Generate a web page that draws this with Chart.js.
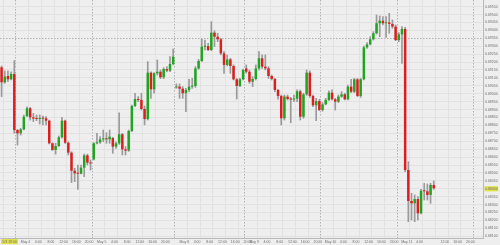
<!DOCTYPE html>
<html>
<head>
<meta charset="utf-8">
<script src="https://cdn.jsdelivr.net/npm/chart.js@4.4.1/dist/chart.umd.min.js"></script>
<style>
  html, body { margin: 0; padding: 0; background: #eeeeee; }
  #wrap { width: 500px; height: 245px; }
</style>
</head>
<body>
<div id="wrap"><canvas id="chart"></canvas></div>
<script>
// hourly sessions shown on the time axis
const dayNames = ['May 3', 'May 4', 'May 5', 'May 7', 'May 8', 'May 9', 'May 10', 'May 11', 'May 12'];
const dayFirstHour = [19, 0, 0, 22, 0, 0, 0, 0, 0];
const dayLastHour = [23, 23, 23, 23, 21, 23, 23, 23, 2];
const firstTickLabel = '5/3 19:00';
const hiddenTicks = ['May 3 20:00', 'May 11 8:00', 'May 12 0:00'];

// H1 candles
const opens = [
  0.69167,0.69072,0.69112,0.69091,0.69125,0.68771,0.68750,0.68775,0.68859,0.68908,
  0.68851,0.68845,0.68841,0.68845,0.68845,0.68830,0.68687,0.68645,0.68670,0.68725,
  0.68830,0.68691,0.68628,0.68514,0.68497,0.68495,0.68533,0.68611,0.68565,0.68586,
  0.68687,0.68693,0.68712,0.68716,0.68712,0.68720,0.68666,0.68687,0.68744,0.68649,
  0.68641,0.68765,0.68923,0.68967,0.68961,0.68904,0.68840,0.69133,0.69028,0.69129,
  0.69139,0.69104,0.69156,0.69146,0.69188,0.69040,0.69045,0.69032,0.69003,0.69024,
  0.69045,0.69049,0.69160,0.69207,0.69297,0.69301,0.69276,0.69386,0.69360,0.69344,
  0.69255,0.69182,0.69217,0.69175,0.69091,0.69049,0.69091,0.69160,0.69139,0.69076,
  0.69093,0.69160,0.69224,0.69171,0.69160,0.69112,0.69093,0.69024,0.68986,0.68845,
  0.68982,0.68967,0.68963,0.68969,0.69015,0.68855,0.68996,0.69133,0.68986,0.68927,
  0.68954,0.68897,0.68933,0.68961,0.69007,0.68965,0.68950,0.68982,0.68996,0.68965,
  0.69045,0.69013,0.69091,0.68986,0.69091,0.69293,0.69312,0.69344,0.69382,0.69445,
  0.69461,0.69445,0.69450,0.69441,0.69424,0.69339,0.69375,0.69409,0.68518,0.68323,
  0.68308,0.68335,0.68245,0.68388,0.68384,0.68361,0.68424
];
const highs = [
  0.69175,0.69144,0.69144,0.69139,0.69209,0.68775,0.68782,0.68866,0.68918,0.68914,
  0.68876,0.68866,0.68866,0.68859,0.68855,0.68834,0.68691,0.68687,0.68733,0.68851,
  0.68834,0.68697,0.68634,0.68529,0.68550,0.68550,0.68619,0.68619,0.68582,0.68691,
  0.68750,0.68729,0.68771,0.68754,0.68771,0.68725,0.68697,0.68880,0.68750,0.68666,
  0.68771,0.68929,0.69003,0.68982,0.69003,0.68923,0.69203,0.69139,0.69133,0.69213,
  0.69150,0.69165,0.69171,0.69234,0.69283,0.69062,0.69062,0.69045,0.69034,0.69091,
  0.69097,0.69171,0.69217,0.69344,0.69339,0.69318,0.69455,0.69398,0.69382,0.69350,
  0.69266,0.69245,0.69224,0.69182,0.69097,0.69097,0.69155,0.69182,0.69150,0.69108,
  0.69182,0.69266,0.69245,0.69245,0.69171,0.69118,0.69097,0.69028,0.68992,0.68992,
  0.68992,0.68977,0.68992,0.69024,0.69024,0.69003,0.69150,0.69144,0.68992,0.68971,
  0.68965,0.68944,0.68971,0.69019,0.69024,0.68971,0.68992,0.69013,0.69003,0.69055,
  0.69091,0.69097,0.69097,0.69097,0.69301,0.69323,0.69360,0.69392,0.69497,0.69491,
  0.69487,0.69487,0.69508,0.69466,0.69434,0.69386,0.69424,0.69419,0.68571,0.68371,
  0.68361,0.68350,0.68396,0.68434,0.68430,0.68434,0.68449
];
const lows = [
  0.68982,0.69066,0.69076,0.69087,0.68750,0.68676,0.68739,0.68771,0.68855,0.68834,
  0.68824,0.68830,0.68809,0.68803,0.68803,0.68683,0.68641,0.68619,0.68666,0.68720,
  0.68687,0.68613,0.68439,0.68445,0.68396,0.68493,0.68476,0.68550,0.68518,0.68582,
  0.68683,0.68687,0.68697,0.68687,0.68687,0.68624,0.68655,0.68680,0.68613,0.68613,
  0.68636,0.68760,0.68918,0.68950,0.68897,0.68803,0.68834,0.68971,0.69003,0.69118,
  0.69095,0.69095,0.69139,0.69139,0.69182,0.69034,0.68971,0.68971,0.68887,0.69013,
  0.69034,0.69040,0.69154,0.69203,0.69276,0.69272,0.69272,0.69297,0.69329,0.69245,
  0.69129,0.69175,0.69129,0.69087,0.68967,0.69045,0.69087,0.69129,0.69066,0.69045,
  0.69087,0.69150,0.69160,0.69150,0.69097,0.69087,0.69013,0.68965,0.68803,0.68834,
  0.68961,0.68817,0.68950,0.68950,0.68834,0.68845,0.68990,0.68977,0.68918,0.68830,
  0.68893,0.68890,0.68930,0.68956,0.68961,0.68897,0.68944,0.68977,0.68961,0.68961,
  0.69007,0.69007,0.68982,0.68977,0.69087,0.69287,0.69308,0.69339,0.69377,0.69360,
  0.69434,0.69356,0.69382,0.69413,0.69335,0.69329,0.69192,0.68508,0.68192,0.68203,
  0.68192,0.68203,0.68241,0.68329,0.68329,0.68308,0.68396
];
const closes = [
  0.69072,0.69108,0.69091,0.69125,0.68771,0.68750,0.68775,0.68855,0.68908,0.68851,
  0.68843,0.68841,0.68845,0.68843,0.68830,0.68687,0.68645,0.68670,0.68725,0.68830,
  0.68691,0.68628,0.68514,0.68497,0.68495,0.68533,0.68611,0.68565,0.68560,0.68687,
  0.68693,0.68712,0.68716,0.68712,0.68729,0.68666,0.68687,0.68744,0.68649,0.68641,
  0.68765,0.68923,0.68967,0.68961,0.68904,0.68840,0.69133,0.69028,0.69129,0.69139,
  0.69104,0.69156,0.69146,0.69188,0.69234,0.69045,0.69032,0.69003,0.69024,0.69045,
  0.69049,0.69160,0.69207,0.69297,0.69301,0.69276,0.69386,0.69360,0.69344,0.69255,
  0.69182,0.69217,0.69175,0.69091,0.69049,0.69091,0.69150,0.69139,0.69076,0.69093,
  0.69160,0.69224,0.69171,0.69160,0.69112,0.69093,0.69024,0.68986,0.68845,0.68982,
  0.68967,0.68963,0.68969,0.69015,0.68855,0.68996,0.69133,0.68986,0.68927,0.68954,
  0.68897,0.68933,0.68961,0.69007,0.68965,0.68950,0.68982,0.68996,0.68965,0.69045,
  0.69013,0.69091,0.68986,0.69091,0.69293,0.69312,0.69344,0.69382,0.69445,0.69461,
  0.69445,0.69450,0.69441,0.69424,0.69339,0.69375,0.69409,0.68518,0.68323,0.68308,
  0.68335,0.68245,0.68388,0.68384,0.68361,0.68424,0.68403
];

// price scale
const priceLabels = [
  '0.69550','0.69500','0.69450','0.69400','0.69350','0.69300','0.69250','0.69200','0.69150','0.69100',
  '0.69050','0.69000','0.68950','0.68900','0.68850','0.68800','0.68750','0.68700','0.68650','0.68600',
  '0.68550','0.68500','0.68450','0.68400','0.68350','0.68300','0.68250','0.68200','0.68150','0.68100'
];
const yMin = 0.68089;
const yMax = 0.69592;
const markedLevel = '0.69350';
const lastPriceLabel = '0.68400';

const upColor = '#1fa51f';
const downColor = '#de1e1e';
const wickColor = '#9a9a9a';
const gridColor = '#e2e2e2';
const sepColor = '#b2b2b2';
const axisColor = '#b8b8b8';
const textColor = '#6e6e6e';
const hiColor = '#e0e24a';
const tickFont = { family: 'Liberation Sans, Arial, sans-serif', size: 3.5 };

// build hourly categories
const categories = [];
const hourOf = [];
dayNames.forEach((d, k) => {
  for (let h = dayFirstHour[k]; h <= dayLastHour[k]; h++) {
    categories.push(d + ' ' + h + ':00');
    hourOf.push(h);
  }
});

function tickText(i) {
  if (i === 0) return firstTickLabel;
  if (hiddenTicks.includes(categories[i])) return '';
  const h = hourOf[i];
  if (h === 0) return categories[i].replace(' 0:00', '');
  if (h % 4 === 0) return h + ':00';
  return '';
}

new Chart(document.getElementById('chart'), {
  type: 'bar',
  data: {
    labels: categories,
    datasets: [
      {
        label: 'wick',
        data: lows.map((l, i) => [l, highs[i]]),
        backgroundColor: wickColor,
        barThickness: 1,
        grouped: false,
        order: 2
      },
      {
        label: 'body',
        data: opens.map((o, i) => [o, closes[i]]),
        backgroundColor: ctx => closes[ctx.dataIndex] >= opens[ctx.dataIndex] ? upColor : downColor,
        barPercentage: 0.78,
        categoryPercentage: 1,
        minBarLength: 1,
        grouped: false,
        order: 1
      }
    ]
  },
  options: {
    responsive: true,
    maintainAspectRatio: false,
    animation: false,
    events: [],
    layout: { padding: 0, autoPadding: false },
    plugins: { legend: { display: false }, tooltip: { enabled: false } },
    scales: {
      x: {
        offset: true,
        grid: {
          offset: true,
          drawTicks: false,
          color: ctx => {
            const h = hourOf[ctx.index];
            if (h === 0) return sepColor;
            if (h % 4 === 0) return gridColor;
            return 'rgba(0,0,0,0)';
          }
        },
        border: {
          color: axisColor,
          dash: ctx => hourOf[ctx.index] === 0 ? [1.5, 1.5] : []
        },
        ticks: {
          autoSkip: false,
          maxRotation: 0,
          minRotation: 0,
          padding: 1.5,
          labelOffset: 8,
          font: tickFont,
          color: textColor,
          callback: (v, i) => tickText(i),
          showLabelBackdrop: ctx => ctx.index === 0,
          backdropColor: hiColor,
          backdropPadding: { left: 1, right: 1, top: 0.5, bottom: 0.5 }
        },
        afterFit: s => { s.height = 7; s.paddingLeft = 0; s.paddingRight = 0; }
      },
      y: {
        position: 'right',
        min: yMin,
        max: yMax,
        afterBuildTicks: s => { s.ticks = priceLabels.map(t => ({ value: parseFloat(t) })); },
        grid: {
          drawTicks: false,
          color: ctx => priceLabels[ctx.index] === markedLevel ? sepColor : gridColor
        },
        border: {
          color: axisColor,
          dash: ctx => priceLabels[ctx.index] === markedLevel ? [1.5, 1.5] : []
        },
        ticks: {
          padding: 2,
          font: tickFont,
          color: textColor,
          callback: (v, i) => priceLabels[i],
          showLabelBackdrop: ctx => priceLabels[ctx.index] === lastPriceLabel,
          backdropColor: hiColor,
          backdropPadding: { left: 0.5, right: 0.5, top: 0.5, bottom: 0.5 }
        },
        afterFit: s => { s.width = 17; s.paddingTop = 0; s.paddingBottom = 0; }
      }
    }
  }
});
</script>
</body>
</html>
